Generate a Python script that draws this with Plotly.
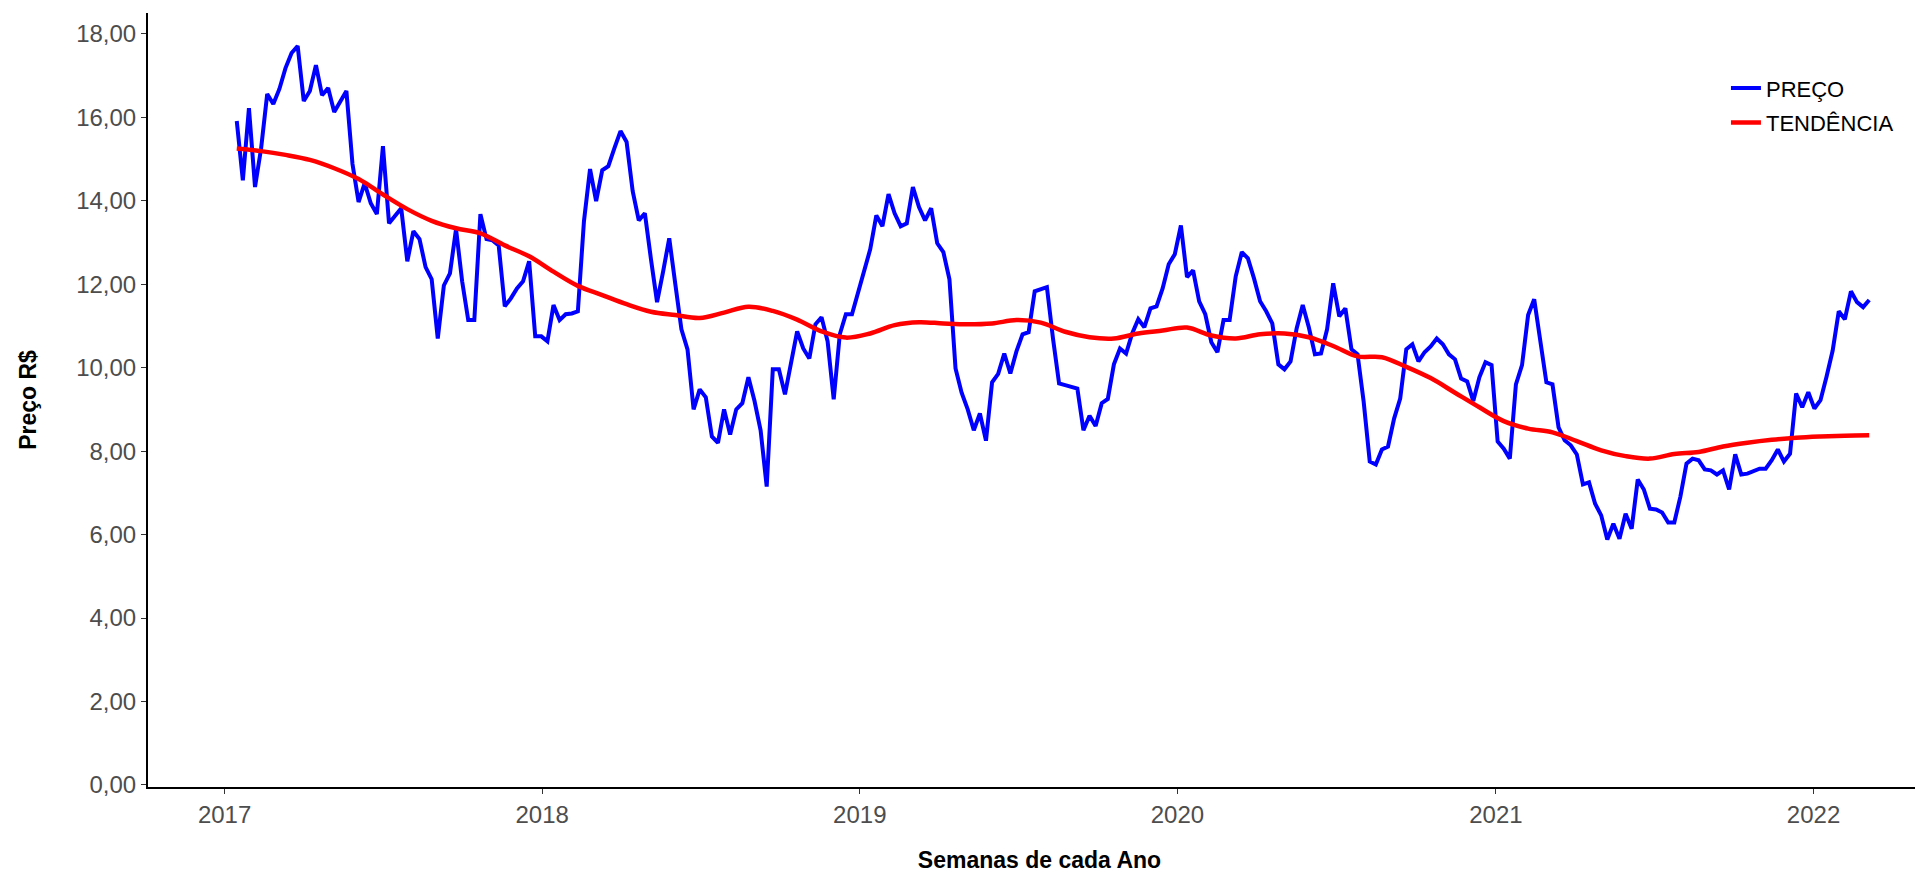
import pandas as pd
import plotly.graph_objects as go

# Weekly price series (R$), first week Jan 2017 to early Mar 2022
preco = [
    15.91, 14.49, 16.22, 14.33, 15.26, 16.56, 16.32, 16.68, 17.18, 17.54,
    17.71, 16.39, 16.63, 17.25, 16.53, 16.70, 16.13, 16.39, 16.63, 14.88,
    13.97, 14.42, 13.94, 13.68, 15.31, 13.46, 13.63, 13.82, 12.55, 13.27,
    13.08, 12.41, 12.12, 10.70, 11.97, 12.26, 13.32, 12.07, 11.14, 11.14,
    13.68, 13.08, 13.05, 12.93, 11.47, 11.66, 11.90, 12.07, 12.55, 10.75,
    10.75, 10.63, 11.50, 11.14, 11.28, 11.30, 11.35, 13.51, 14.76, 13.99,
    14.73, 14.83, 15.26, 15.67, 15.41, 14.23, 13.53, 13.70, 12.60, 11.57,
    12.31, 13.10, 12.00, 10.92, 10.44, 9.00, 9.48, 9.29, 8.35, 8.20,
    9.00, 8.40, 9.00, 9.15, 9.77, 9.20, 8.50, 7.15, 9.96, 9.96,
    9.36, 10.15, 10.87, 10.46, 10.22, 11.04, 11.21, 10.63, 9.24, 10.80,
    11.28, 11.28, 11.83, 12.31, 12.84, 13.65, 13.39, 14.16, 13.70, 13.39,
    13.46, 14.33, 13.85, 13.53, 13.82, 12.98, 12.77, 12.12, 9.98, 9.40,
    9.00, 8.50, 8.90, 8.25, 9.65, 9.85, 10.34, 9.86, 10.39, 10.80,
    10.85, 11.83, 11.88, 11.93, 10.70, 9.62, 9.58, 9.55, 9.50, 8.50,
    8.85, 8.60, 9.15, 9.25, 10.08, 10.46, 10.34, 10.82, 11.16, 10.97,
    11.42, 11.47, 11.90, 12.48, 12.72, 13.41, 12.17, 12.33, 11.59, 11.28,
    10.61, 10.37, 11.14, 11.14, 12.19, 12.77, 12.62, 12.14, 11.59, 11.35,
    11.06, 10.08, 9.96, 10.15, 10.94, 11.50, 10.97, 10.32, 10.34, 10.92,
    12.02, 11.23, 11.42, 10.44, 10.32, 9.19, 7.75, 7.68, 8.04, 8.11,
    8.78, 9.26, 10.44, 10.56, 10.15, 10.37, 10.51, 10.70, 10.56, 10.32,
    10.20, 9.74, 9.67, 9.20, 9.77, 10.13, 10.06, 8.23, 8.06, 7.82,
    9.60, 10.06, 11.26, 11.64, 10.66, 9.65, 9.60, 8.57, 8.26, 8.14,
    7.92, 7.20, 7.25, 6.74, 6.46, 5.88, 6.26, 5.90, 6.50, 6.14,
    7.32, 7.08, 6.62, 6.60, 6.53, 6.29, 6.29, 6.91, 7.70, 7.82,
    7.78, 7.56, 7.54, 7.44, 7.54, 7.08, 7.92, 7.44, 7.46, 7.51,
    7.58, 7.58, 7.78, 8.04, 7.75, 7.94, 9.38, 9.05, 9.41, 9.02,
    9.22, 9.79, 10.41, 11.35, 11.16, 11.83, 11.57, 11.45, 11.62,
]

# Trend line, read every 4 weeks
tendencia = [
    15.25, 15.19, 15.10, 14.98, 14.78, 14.52, 14.15, 13.80, 13.52, 13.34,
    13.22, 12.93, 12.67, 12.30, 11.96, 11.74, 11.52, 11.34, 11.26, 11.19,
    11.32, 11.46, 11.36, 11.15, 10.87, 10.72, 10.82, 11.02, 11.09, 11.06,
    11.04, 11.06, 11.14, 11.08, 10.86, 10.73, 10.70, 10.82, 10.89, 10.96,
    10.77, 10.70, 10.80, 10.82, 10.73, 10.52, 10.27, 10.25, 10.02, 9.75,
    9.40, 9.05, 8.72, 8.54, 8.45, 8.24, 8.02, 7.88, 7.82, 7.93,
    7.98, 8.11, 8.20, 8.27, 8.32, 8.35, 8.37, 8.38,
]

semanas = pd.date_range("2017-01-15", periods=len(preco), freq="7D")
semanas_tendencia = semanas[::4]

x_tickvals = ["2017-01-01", "2018-01-01", "2019-01-01", "2020-01-01", "2021-01-01", "2022-01-01"]
x_ticktext = ["2017", "2018", "2019", "2020", "2021", "2022"]
y_tickvals = [0, 2, 4, 6, 8, 10, 12, 14, 16, 18]
y_ticktext = ["0,00", "2,00", "4,00", "6,00", "8,00", "10,00", "12,00", "14,00", "16,00", "18,00"]

FONT = "Liberation Sans, Arial, sans-serif"

fig = go.Figure()
fig.add_trace(go.Scatter(
    x=semanas, y=preco, mode="lines", name="PREÇO", legendgroup="preco",
    line=dict(color="#0000FF", width=4),
))
fig.add_trace(go.Scatter(
    x=semanas_tendencia, y=tendencia, mode="lines", name="TENDÊNCIA", legendgroup="tend",
    line=dict(color="#FF0000", width=4.5, shape="spline", smoothing=1.0),
))

fig.update_layout(
    width=1923, height=874,
    margin=dict(l=140, r=0, t=5, b=95),
    paper_bgcolor="white", plot_bgcolor="white",
    font=dict(family=FONT, size=22, color="black"),
    showlegend=True,
    legend=dict(
        x=0.885, y=0.93, xanchor="left", yanchor="top",
        bgcolor="rgba(0,0,0,0)", font=dict(size=22, color="black"),
        tracegroupgap=3,
    ),
    xaxis=dict(
        range=["2016-10-05", "2022-05-16"],
        tickvals=x_tickvals, ticktext=x_ticktext,
        showgrid=False, zeroline=False,
        showline=True, linecolor="black", linewidth=2,
        ticks="outside", ticklen=5, tickcolor="#333333", tickwidth=1,
        tickfont=dict(size=24, color="#4D4D4D"),
        title=dict(text="<b>Semanas de cada Ano</b>", font=dict(size=23, color="black"), standoff=25),
        automargin=False,
    ),
    yaxis=dict(
        range=[-0.05, 18.5],
        tickvals=y_tickvals, ticktext=y_ticktext,
        showgrid=False, zeroline=False,
        showline=True, linecolor="black", linewidth=2,
        ticks="outside", ticklen=5, tickcolor="#333333", tickwidth=1,
        tickfont=dict(size=24, color="#4D4D4D"),
        title=dict(text="<b>Preço R$</b>", font=dict(size=23, color="black"), standoff=33),
        automargin=False,
    ),
)

fig.write_html("out.html")
